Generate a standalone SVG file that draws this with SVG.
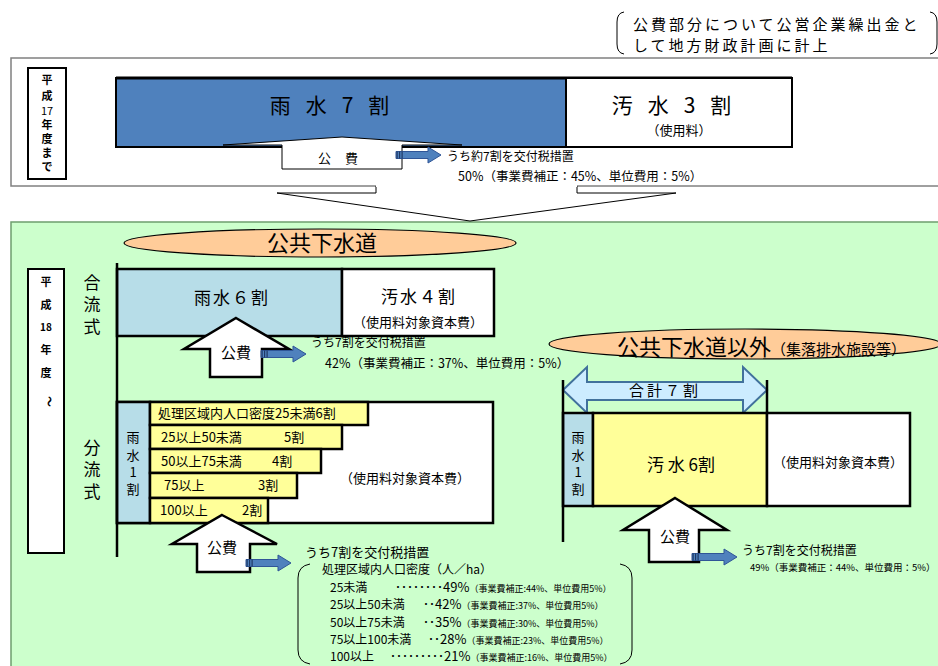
<svg xmlns="http://www.w3.org/2000/svg" xmlns:xlink="http://www.w3.org/1999/xlink" width="938" height="666" viewBox="0 0 938 666">
<style>
text{font-family:"Noto Sans CJK JP","Liberation Sans",sans-serif;fill:#000}
.ar{fill:#fff;stroke:#000;stroke-width:2.5}
.c{text-anchor:middle}
.b{font-weight:bold}
</style>
<defs>
<g id="barrow">
<path d="M0,-3.5 H32 V-8 L45,0 L32,8 V3.5 H0 Z" fill="#4F81BD" stroke="#2F5597" stroke-width="1"/>
<rect x="0.5" y="-3.5" width="1.2" height="7" fill="#1F3864"/>
<rect x="3" y="-3.5" width="1.2" height="7" fill="#1F3864"/>
<rect x="5.5" y="-3.5" width="1.2" height="7" fill="#1F3864"/>
</g>
</defs>
<rect width="938" height="666" fill="#fff"/>

<g id="note">
<path d="M624,12 Q617,13 617,22 V44 Q617,53 624,54" fill="none" stroke="#000" stroke-width="1"/>
<path d="M930,12 Q937,13 937,22 V44 Q937,53 930,54" fill="none" stroke="#000" stroke-width="1"/>
<text font-size="15" letter-spacing="3"><tspan x="633" y="30">公費部分について公営企業繰出金と</tspan><tspan x="633" y="51">して地方財政計画に計上</tspan></text>
</g>

<g id="period1">
<rect x="11" y="58" width="940" height="128" fill="#fff" stroke="#808080" stroke-width="1.5"/>
<rect x="28" y="68" width="38" height="111" fill="#fff" stroke="#000" stroke-width="2"/>
<text class="c b" font-size="11"><tspan x="47" y="84">平</tspan><tspan x="47" y="100">成</tspan><tspan x="47" y="115" font-weight="normal">17</tspan><tspan x="47" y="129">年</tspan><tspan x="47" y="143">度</tspan><tspan x="47" y="157">ま</tspan><tspan x="47" y="171">で</tspan></text>
</g>

<g id="rain7">
<rect x="116" y="78" width="450" height="69" fill="#4F81BD" stroke="#000" stroke-width="2"/>
<line x1="116" y1="78" x2="792" y2="78" stroke="#000" stroke-width="3"/>
<text x="337" y="113" font-size="21" class="c" letter-spacing="15">雨水7割</text>
</g>
<g id="sewage3">
<rect x="566" y="78" width="226" height="69" fill="#fff" stroke="#000" stroke-width="2"/>
<text x="679" y="113" font-size="21" class="c" letter-spacing="15">汚水3割</text>
<text x="679" y="135" font-size="13" class="c">（使用料）</text>
</g>
<g id="kouhi1">
<polygon points="282,169 282,145 223,145 342,137 462,145 402,145 402,169" fill="#fff" stroke="#000" stroke-width="1"/>
<text x="345" y="163" font-size="13" class="c" letter-spacing="14">公費</text>
</g>
<g id="note1">
<use xlink:href="#barrow" transform="translate(396,155)"/>
<text x="447" y="161" font-size="12">うち約7割を交付税措置</text>
<text x="458" y="181" font-size="12.5">50%（事業費補正：45%、単位費用：5%）</text>
</g>

<g id="period2">
<rect x="11" y="222" width="940" height="450" fill="#CCFFCC" stroke="#6E9E6E" stroke-width="1.5"/>
<polygon points="376,186 376,193 277,193 470,221 676,193 577,193 577,186" fill="#fff" stroke="#000" stroke-width="1"/>
<line x1="376" y1="186" x2="577" y2="186" stroke="#fff" stroke-width="2"/>
<rect x="28" y="269" width="36" height="284" fill="#fff" stroke="#000" stroke-width="2"/>
<text class="c b" font-size="11"><tspan x="46" y="286">平</tspan><tspan x="46" y="309">成</tspan><tspan x="46" y="331" font-size="10">18</tspan><tspan x="46" y="354">年</tspan><tspan x="46" y="377">度</tspan><tspan x="50" y="396" rotate="90">～</tspan></text>
</g>

<g id="koukyou">
<ellipse cx="320" cy="243" rx="196" ry="14" fill="#FFCC99" stroke="#000" stroke-width="1.2"/>
<text x="322" y="251" font-size="22" class="c">公共下水道</text>
</g>

<g id="gouryu">
<text font-size="17" class="c"><tspan x="92" y="289">合</tspan><tspan x="92" y="311">流</tspan><tspan x="92" y="333">式</tspan></text>
<rect x="117" y="269" width="225" height="67" fill="#B7DDE8" stroke="#000" stroke-width="2.5"/>
<rect x="342" y="269" width="152" height="67" fill="#fff" stroke="#000" stroke-width="2.5"/>
<text x="232" y="304" font-size="17" class="c" letter-spacing="2">雨水６割</text>
<text x="419" y="303" font-size="17" class="c" letter-spacing="2">汚水４割</text>
<text x="418" y="327" font-size="13" class="c">（使用料対象資本費）</text>
<polygon class="ar" points="236,318 289,349 262,349 262,377 210,377 210,349 184,349"/>
<text x="236" y="358" font-size="15" class="c">公費</text>
<use xlink:href="#barrow" transform="translate(261,354)"/>
<text x="311" y="347" font-size="12">うち7割を交付税措置</text>
<text x="325" y="368" font-size="12.5">42%（事業費補正：37%、単位費用：5%）</text>
</g>

<g id="bunryu">
<text font-size="17" class="c"><tspan x="92" y="454">分</tspan><tspan x="92" y="476">流</tspan><tspan x="92" y="498">式</tspan></text>
<rect x="117" y="402" width="376" height="121" fill="#fff" stroke="#000" stroke-width="2.5"/>
<rect x="117" y="402" width="33" height="121" fill="#B7DDE8" stroke="#000" stroke-width="2.5"/>
<text class="c" font-size="13"><tspan x="133" y="442">雨</tspan><tspan x="133" y="460">水</tspan><tspan x="133" y="477">1</tspan><tspan x="133" y="494">割</tspan></text>
<g fill="#FFFF99" stroke="#000" stroke-width="2.5">
<rect x="150" y="402" width="218" height="23"/>
<rect x="150" y="425" width="192" height="24"/>
<rect x="150" y="449" width="171" height="24"/>
<rect x="150" y="473" width="147" height="25"/>
<rect x="150" y="498" width="118" height="25"/>
</g>
<g font-size="13">
<text x="158" y="418">処理区域内人口密度25未満6割</text>
<text x="161" y="442">25以上50未満</text><text x="284" y="442">5割</text>
<text x="161" y="466">50以上75未満</text><text x="272" y="466">4割</text>
<text x="164" y="490">75以上</text><text x="258" y="490">3割</text>
<text x="160" y="515">100以上</text><text x="242" y="515">2割</text>
</g>
<text x="405" y="483" font-size="13" class="c">（使用料対象資本費）</text>
<polygon class="ar" points="222,515 277,544 250,544 250,572 197,572 197,544 172,544"/>
<text x="222" y="553" font-size="15" class="c">公費</text>
<use xlink:href="#barrow" transform="translate(246,563)"/>
<text x="305" y="557" font-size="13">うち7割を交付税措置</text>
<path d="M310,564 Q298,566 298,578 V650 Q298,662 310,664" fill="none" stroke="#000" stroke-width="1"/>
<path d="M620,564 Q632,566 632,578 V650 Q632,662 620,664" fill="none" stroke="#000" stroke-width="1"/>
<text x="322" y="574" font-size="12">処理区域内人口密度（人／ha）</text>
<g font-size="12">
<text x="330" y="592">25未満</text>
<text x="395" y="592">････････<tspan font-size="13">49%</tspan><tspan font-size="9">（事業費補正:44%、単位費用5%）</tspan></text>
<text x="330" y="609">25以上50未満</text>
<text x="423" y="609">･･<tspan font-size="13">42%</tspan><tspan font-size="9">（事業費補正:37%、単位費用5%）</tspan></text>
<text x="330" y="627">50以上75未満</text>
<text x="423" y="627">･･<tspan font-size="13">35%</tspan><tspan font-size="9">（事業費補正:30%、単位費用5%）</tspan></text>
<text x="330" y="644">75以上100未満</text>
<text x="428" y="644">･･<tspan font-size="13">28%</tspan><tspan font-size="9">（事業費補正:23%、単位費用5%）</tspan></text>
<text x="330" y="661">100以上</text>
<text x="390" y="661">･････････<tspan font-size="13">21%</tspan><tspan font-size="9">（事業費補正:16%、単位費用5%）</tspan></text>
</g>
</g>

<g id="other">
<ellipse cx="745" cy="344" rx="196" ry="15" fill="#FFCC99" stroke="#000" stroke-width="1.2"/>
<text x="617" y="355" font-size="22">公共下水道以外<tspan font-size="15">（集落排水施設等）</tspan></text>
<path d="M563,390 L587,367 V382 H743 V367 L767,390 L743,413 V400 H587 V413 Z" fill="#CCECFF" stroke="#41719C" stroke-width="2"/>
<text x="665" y="396" font-size="15" class="c" letter-spacing="3">合計７割</text>
<rect x="563" y="413" width="30" height="93" fill="#B7DDE8" stroke="#000" stroke-width="2.5"/>
<rect x="593" y="413" width="174" height="93" fill="#FFFF99" stroke="#000" stroke-width="2.5"/>
<rect x="767" y="413" width="143" height="93" fill="#fff" stroke="#000" stroke-width="2.5"/>
<text class="c" font-size="13"><tspan x="578" y="442">雨</tspan><tspan x="578" y="460">水</tspan><tspan x="578" y="477">1</tspan><tspan x="578" y="494">割</tspan></text>
<text x="681" y="471" font-size="17" class="c">汚 水 6割</text>
<text x="838" y="467" font-size="13" class="c">（使用料対象資本費）</text>
<polygon class="ar" points="675,498 727,530 699,530 699,562 649,562 649,530 623,530"/>
<text x="675" y="542" font-size="15" class="c">公費</text>
<use xlink:href="#barrow" transform="translate(692,557)"/>
<text x="742" y="555" font-size="12">うち7割を交付税措置</text>
<text x="750" y="571" font-size="9.5">49%（事業費補正：44%、単位費用：5%）</text>
</g>

<g id="connectors" stroke="#000" stroke-width="2.5">
<line x1="117" y1="263" x2="117" y2="557"/>
<line x1="563" y1="380" x2="563" y2="542"/>
<line x1="767" y1="380" x2="767" y2="413"/>
</g>
</svg>
